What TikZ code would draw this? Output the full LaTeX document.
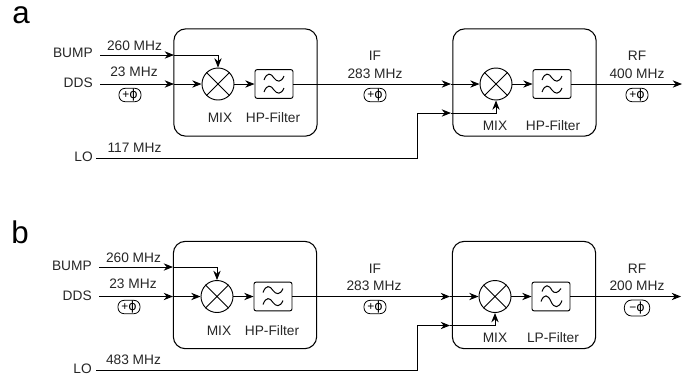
\documentclass[tikz,border=0pt]{standalone}
\usepackage{fontspec}
\setmainfont{Liberation Sans}
\usetikzlibrary{arrows.meta}
\tikzset{
 x=0.75pt,y=-0.75pt,
 lbl/.style={inner sep=0pt,font=\fontsize{10.3pt}{12pt}\selectfont,text=black!85},
 big/.style={inner sep=0pt,font=\fontsize{23.5pt}{24pt}\selectfont},
 module/.style={draw,line width=0.8pt,rounded corners=9pt,minimum width=107.5pt,minimum height=80.5pt,inner sep=0pt},
 mixer/.style={draw,circle,line width=0.7pt,minimum size=24pt,inner sep=0pt},
 filt/.style={draw,line width=0.7pt,rounded corners=1.5pt,minimum width=28.5pt,minimum height=21.5pt,inner sep=0pt},
 phase/.style={draw,rounded corners=4.5pt,line width=0.6pt,minimum width=16.5pt,minimum height=10pt,inner sep=0pt,font=\fontsize{9pt}{10pt}\selectfont},
 sig/.style={line width=0.7pt},
 tip/.style={-{Stealth[length=7pt,width=5.5pt]}},
 wave/.style={line width=0.75pt,black},
}
\newfontfamily\phifont{DejaVu Sans}
\newcommand{\ph}{+{\phifont\fontsize{9.5pt}{10pt}\selectfont ϕ}}
\newcommand{\mh}{−{\phifont\fontsize{9.5pt}{10pt}\selectfont ϕ}}
\newcommand{\hpwave}[1]{%
 \draw[wave] ([shift={(-10,-4)}]#1.center) .. controls ([shift={(-7,-12)}]#1.center) and ([shift={(-3,-11)}]#1.center) .. ([shift={(0,-6)}]#1.center) .. controls ([shift={(3,-2)}]#1.center) and ([shift={(7,-1)}]#1.center) .. ([shift={(10,-8)}]#1.center);
 \draw[wave] ([shift={(-10,8)}]#1.center) .. controls ([shift={(-7,0)}]#1.center) and ([shift={(-3,1)}]#1.center) .. ([shift={(0,6)}]#1.center) .. controls ([shift={(3,10)}]#1.center) and ([shift={(7,11)}]#1.center) .. ([shift={(10,4)}]#1.center);
}
\newcommand{\lpwave}[1]{%
 \draw[wave] ([shift={(-9,-5)}]#1.center) .. controls ([shift={(-6,-13)}]#1.center) and ([shift={(-2,-12)}]#1.center) .. ([shift={(1,-6)}]#1.center) .. controls ([shift={(3,-3)}]#1.center) and ([shift={(7,-3)}]#1.center) .. ([shift={(10,-8)}]#1.center);
 \draw[wave] ([shift={(-10,5)}]#1.center) .. controls ([shift={(-7,-3)}]#1.center) and ([shift={(-3,-2)}]#1.center) .. ([shift={(0,5)}]#1.center) .. controls ([shift={(3,12)}]#1.center) and ([shift={(8,12)}]#1.center) .. ([shift={(11,4)}]#1.center);
}
\newcommand{\crossx}[1]{%
 \draw[line width=0.7pt] (#1.45) -- (#1.225) (#1.135) -- (#1.315);
}
\begin{document}
\begin{tikzpicture}
\useasboundingbox (0,0) rectangle (695,380);
% ===== a
\node[big,anchor=base] (la) at (21,23) {a};
\node[module] (A1) at (245.5,82.5) {};
\node[module] (A2) at (524.5,82.5) {};
\node[mixer] (am1) at (218,84) {};
\crossx{am1}
\node[filt] (af1) at (274,84) {};
\hpwave{af1}
\node[mixer] (am2) at (496,84) {};
\crossx{am2}
\node[filt] (af2) at (552,84) {};
\hpwave{af2}
\node[lbl,anchor=east] (abump) at (93,53) {BUMP};
\node[lbl,anchor=east] (adds) at (93,83) {DDS};
\node[lbl,anchor=east] (alo) at (93,157) {LO};
\node[lbl] (af260) at (134.5,45.5) {260 MHz};
\node[lbl] (af23) at (134,72) {23 MHz};
\node[lbl] (af117) at (134.5,148) {117 MHz};
\node[phase] (ap1) at (130,95) {\ph};
\node[lbl] (amix1) at (220,118) {MIX};
\node[lbl] (ahp1) at (273,118) {HP-Filter};
\node[lbl] (aif) at (375,56) {IF};
\node[lbl] (aif2) at (375,74) {283 MHz};
\node[phase] (ap2) at (375,95) {\ph};
\node[lbl] (amix2) at (495,126) {MIX};
\node[lbl] (ahp2) at (553,126) {HP-Filter};
\node[lbl] (arf) at (637,56) {RF};
\node[lbl] (arf2) at (637,74) {400 MHz};
\node[phase] (ap3) at (637,95) {\ph};
\coordinate (ab) at (100,55);
\coordinate (ad) at (100,84);
\coordinate (al) at (96,158);
\coordinate (aout) at (682,84);
\draw[sig,tip] (ab) -- (174,55);
\draw[sig,tip] (174,55) -| (am1.north);
\draw[sig,tip] (ad) -- (174,84);
\draw[sig,tip] (174,84) -- (am1.west);
\draw[sig,tip] (am1.east) -- (af1.west);
\draw[sig,tip] (af1.east) -- (451,84);
\draw[sig,tip] (451,84) -- (am2.west);
\draw[sig,tip] (am2.east) -- (af2.west);
\draw[sig,tip] (af2.east) -- (aout);
\draw[sig,tip] (al) -- (417,158) -- (417,113) -- (451,113);
\draw[sig,tip] (451,113) -| (am2.south);
% ===== b
\node[big,anchor=base] (lb) at (20,243) {b};
\node[module] (B1) at (245,295) {};
\node[module] (B2) at (524,295) {};
\node[mixer] (bm1) at (217,296.5) {};
\crossx{bm1}
\node[filt] (bf1) at (273,296.5) {};
\hpwave{bf1}
\node[mixer] (bm2) at (495,296.5) {};
\crossx{bm2}
\node[filt] (bf2) at (551,296.5) {};
\lpwave{bf2}
\node[lbl,anchor=east] (bbump) at (92,266) {BUMP};
\node[lbl,anchor=east] (bdds) at (92,296) {DDS};
\node[lbl,anchor=east] (blo) at (92,369) {LO};
\node[lbl] (bf260) at (133.5,258) {260 MHz};
\node[lbl] (bf23) at (133,284) {23 MHz};
\node[lbl] (bf483) at (133.5,360) {483 MHz};
\node[phase] (bp1) at (129,307) {\ph};
\node[lbl] (bmix1) at (219,331) {MIX};
\node[lbl] (bhp1) at (272,331) {HP-Filter};
\node[lbl] (bif) at (375,269) {IF};
\node[lbl] (bif2) at (374,286) {283 MHz};
\node[phase] (bp2) at (375,307) {\ph};
\node[lbl] (bmix2) at (495,338) {MIX};
\node[lbl] (blp) at (553,338) {LP-Filter};
\node[lbl] (brf) at (637,269) {RF};
\node[lbl] (brf2) at (637,286) {200 MHz};
\node[phase,minimum width=19pt,minimum height=12pt,rounded corners=5.5pt] (bp3) at (637,308) {\mh};
\coordinate (bb) at (99,267);
\coordinate (bd) at (99,296.5);
\coordinate (bl) at (96,370);
\coordinate (bout) at (681,296.5);
\draw[sig,tip] (bb) -- (173,267);
\draw[sig,tip] (173,267) -| (bm1.north);
\draw[sig,tip] (bd) -- (173,296.5);
\draw[sig,tip] (173,296.5) -- (bm1.west);
\draw[sig,tip] (bm1.east) -- (bf1.west);
\draw[sig,tip] (bf1.east) -- (450,296.5);
\draw[sig,tip] (450,296.5) -- (bm2.west);
\draw[sig,tip] (bm2.east) -- (bf2.west);
\draw[sig,tip] (bf2.east) -- (bout);
\draw[sig,tip] (bl) -- (417,370) -- (417,325.5) -- (450,325.5);
\draw[sig,tip] (450,325.5) -| (bm2.south);
\end{tikzpicture}
\end{document}
